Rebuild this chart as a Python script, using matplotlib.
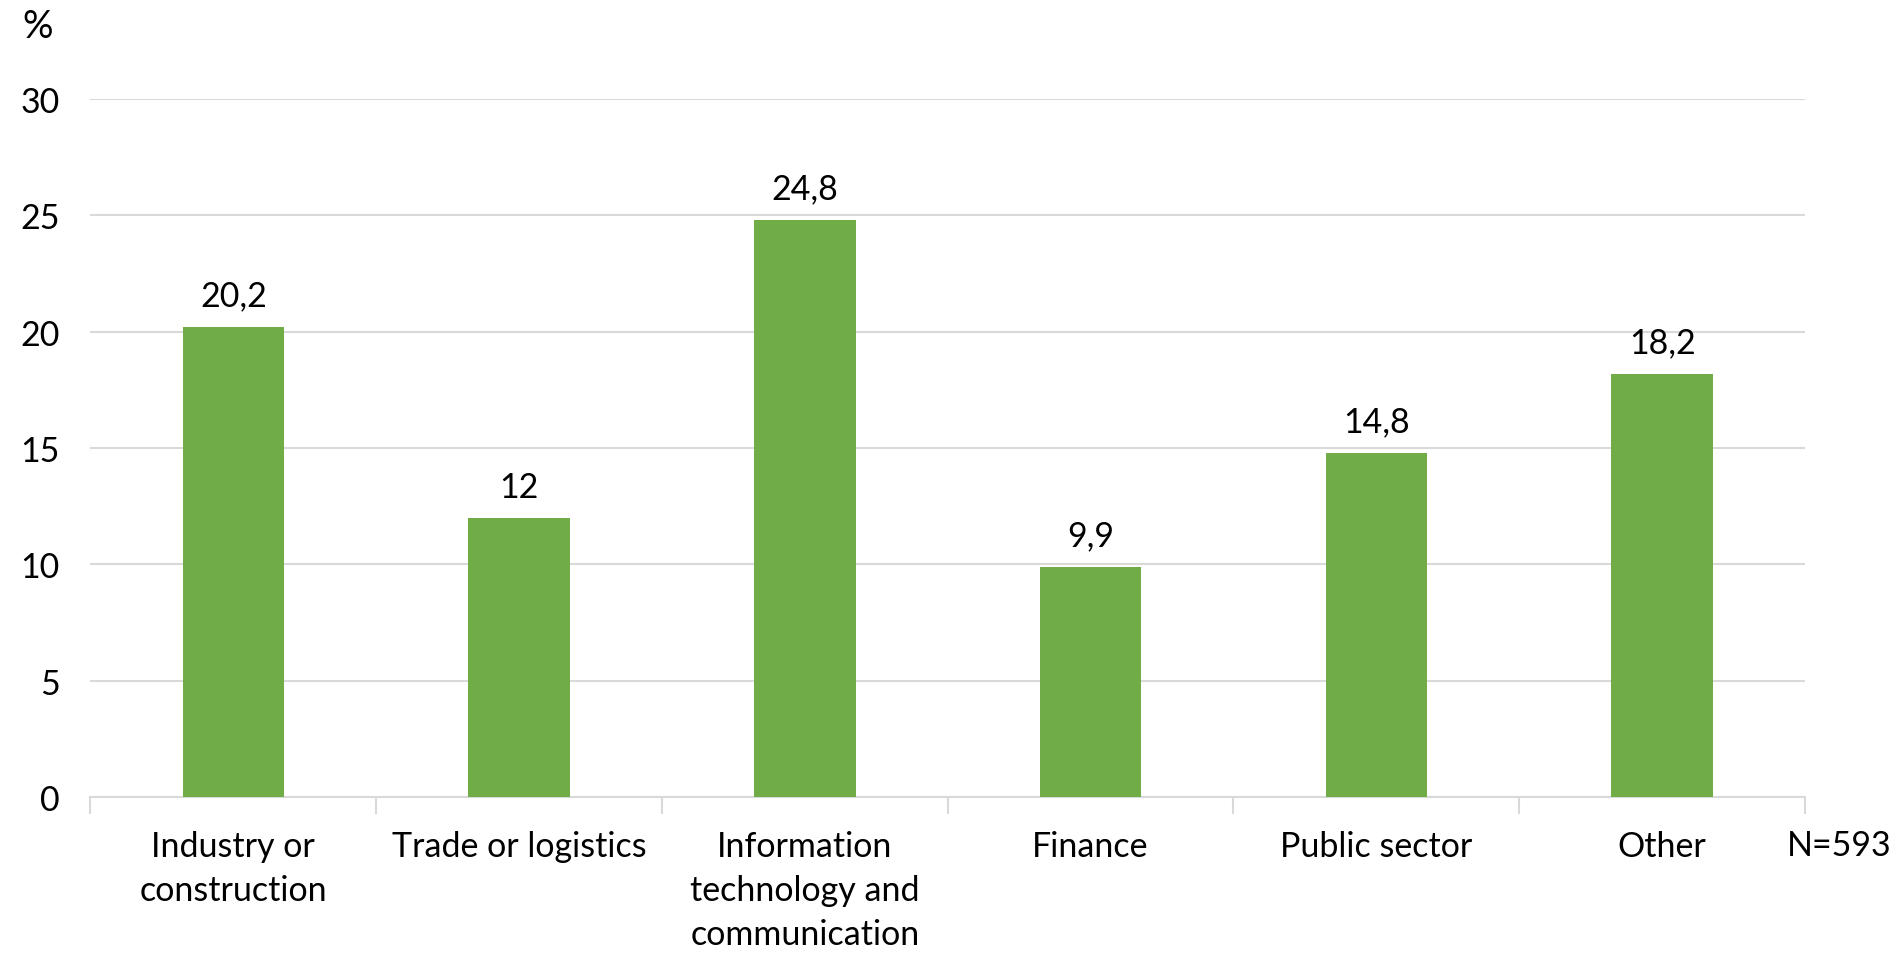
import matplotlib.pyplot as plt
import numpy as np

# data
categories = ['Industry or\nconstruction', 'Trade or logistics',
              'Information\ntechnology and\ncommunication', 'Finance',
              'Public sector', 'Other']
values = [20.2, 12.0, 24.8, 9.9, 14.8, 18.2]
yticks = [0, 5, 10, 15, 20, 25, 30]

plt.rcParams['font.family'] = ['Lato', 'DejaVu Sans']
FS = 24.5
green = '#70AD47'
grid = '#D9D9D9'


def fmt(v):
    s = ('%g' % v)
    return s.replace('.', ',')


def main():
    fig = plt.figure(figsize=(18.93, 9.54), dpi=100)
    ax = fig.add_axes([0.0478, 0.1635, 0.9057, 0.7317])
    x = np.arange(len(categories))
    bars = ax.bar(x, values, width=0.355, color=green, zorder=3)

    ax.set_xlim(-0.5, len(categories) - 0.5)
    ax.set_ylim(0, 30)
    ax.set_yticks(yticks)
    ax.yaxis.grid(True, color=grid, linewidth=1.5, zorder=0)
    ax.tick_params(axis='y', length=0, labelsize=FS, pad=22)

    ax.set_xticks(x)
    ax.set_xticklabels(categories, fontsize=FS, linespacing=1.45, va='top')
    ax.set_xticks(np.arange(-0.5, len(categories)), minor=True)
    ax.tick_params(axis='x', which='major', length=0, pad=24)
    ax.tick_params(axis='x', which='minor', length=12, width=1.5, color=grid)

    for s in ['left', 'right', 'top']:
        ax.spines[s].set_visible(False)
    ax.spines['bottom'].set_color(grid)
    ax.spines['bottom'].set_linewidth(1.5)

    for b, v in zip(bars, values):
        ax.annotate(fmt(v), (b.get_x() + b.get_width() / 2, v),
                    xytext=(0, 11), textcoords='offset points',
                    ha='center', va='bottom', fontsize=FS)

    fig.text(38 / 1893, 1 - 27 / 954, '%', fontsize=FS + 3, ha='center', va='center')
    fig.text(1 - 2 / 1893, 1 - 846 / 954, 'N=593', fontsize=FS, ha='right', va='center')

    fig.savefig('out.png', dpi=100)


if __name__ == '__main__':
    main()
